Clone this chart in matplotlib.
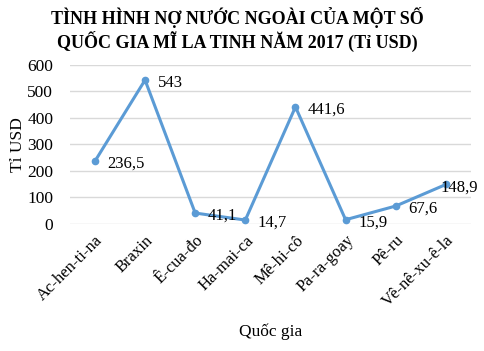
import matplotlib
matplotlib.use("Agg")
import matplotlib.pyplot as plt

countries = ["Ac-hen-ti-na", "Braxin", "Ê-cua-đo", "Ha-mai-ca", "Mê-hi-cô",
             "Pa-ra-goay", "Pê-ru", "Vê-nê-xu-ê-la"]
debt = [236.5, 543, 41.1, 14.7, 441.6, 15.9, 67.6, 148.9]
yticks = [0, 100, 200, 300, 400, 500, 600]

plt.rcParams['font.family'] = ['Liberation Serif', 'DejaVu Serif']

fig = plt.figure(figsize=(4.85, 3.51), dpi=100)
ax = fig.add_axes([0.144, 0.362, 0.827, 0.453])

x = list(range(len(countries)))
color = '#5B9BD5'
ax.plot(x, debt, color=color, lw=2.2, marker='o', ms=4.5, zorder=3)

for i, v in enumerate(debt):
    dx = 9 if i < len(debt) - 1 else -4
    ax.annotate(f"{v:g}".replace('.', ','), (i, v), xytext=(dx, -2),
                textcoords='offset points', ha='left', va='center',
                fontsize=12, color='black', zorder=4)

ax.set_xlim(-0.5, len(countries) - 0.5)
ax.set_ylim(0, 600)
ax.set_yticks(yticks)
ax.set_yticklabels([str(t) for t in yticks], fontsize=12.5)
ax.set_xticks(x)
ax.set_xticklabels(countries, rotation=45, ha='right', rotation_mode='anchor',
                   fontsize=12)
ax.tick_params(axis='y', length=0, pad=12)
ax.tick_params(axis='x', length=0, pad=6)
ax.grid(axis='y', color='#d9d9d9', lw=1)
ax.set_axisbelow(True)
for s in ax.spines.values():
    s.set_visible(False)

ax.set_ylabel("Tỉ USD", fontsize=12.5, labelpad=1)
fig.text(0.557, 0.03, "Quốc gia", ha='center', va='bottom', fontsize=12.5)
fig.text(0.49, 0.98, "TÌNH HÌNH NỢ NƯỚC NGOÀI CỦA MỘT SỐ\nQUỐC GIA MĨ LA TINH NĂM 2017 (Tỉ USD)",
         ha='center', va='top', fontsize=13, fontweight='bold', linespacing=1.2)

fig.savefig("out.png", dpi=100)
